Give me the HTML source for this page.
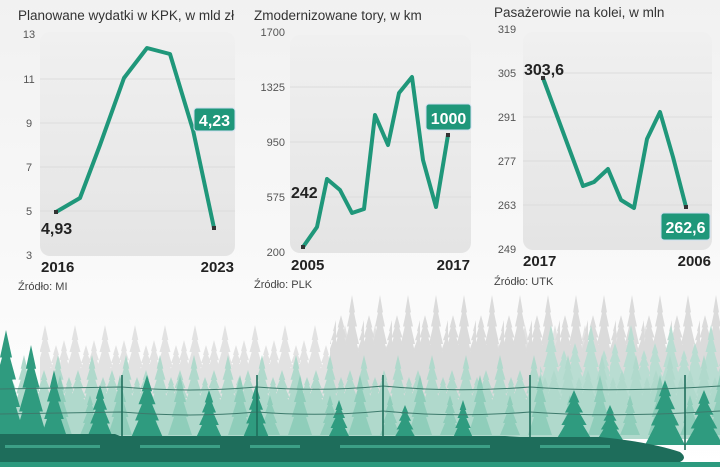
<!DOCTYPE html>
<html><head><meta charset="utf-8"><style>
html,body{margin:0;padding:0;width:720px;height:467px;overflow:hidden;background:#fff}
svg{display:block}
text{font-family:"Liberation Sans",sans-serif}
.t{font-size:13.5px;fill:#333}
.ax{font-size:11px;fill:#555}
.yr{font-size:15px;font-weight:bold;fill:#222}
.src{font-size:11px;fill:#444}
.lb{font-size:16px;font-weight:bold;fill:#222;font-family:"Liberation Sans Narrow","Liberation Sans",sans-serif}
.bx{font-size:16px;font-weight:bold;fill:#fff;font-family:"Liberation Sans Narrow","Liberation Sans",sans-serif}
.ln{fill:none;stroke:#1f977a;stroke-width:4;stroke-linejoin:round}
.gr{stroke:#dcdcdc;stroke-width:1}
</style></head><body>
<svg width="720" height="467" viewBox="0 0 720 467">
<defs>
<linearGradient id="bg" x1="0" y1="0" x2="0" y2="1"><stop offset="0" stop-color="#f1f1f1"/><stop offset="1" stop-color="#fff"/></linearGradient>
<linearGradient id="pb" x1="0" y1="0" x2="0" y2="1"><stop offset="0" stop-color="#f0f0f0"/><stop offset="1" stop-color="#e4e4e4"/></linearGradient>
<symbol id="tr" viewBox="0 0 20 100" preserveAspectRatio="none"><polygon points="10,0 13,25 12,25 15,45 13,45 17,70 15,70 20,100 0,100 5,70 3,70 7,45 5,45 8,25 7,25"/></symbol>
<pattern id="pg" patternUnits="userSpaceOnUse" x="0" y="325" width="30" height="60">
<use href="#tr" x="-6" y="15" width="20" height="45" fill="#e2e2e2"/><use href="#tr" x="4" y="0" width="22" height="60" fill="#e2e2e2"/><use href="#tr" x="16" y="20" width="20" height="40" fill="#e2e2e2"/><use href="#tr" x="24" y="15" width="20" height="45" fill="#e2e2e2"/></pattern>
<pattern id="pg2" patternUnits="userSpaceOnUse" x="0" y="295" width="28" height="70">
<use href="#tr" x="-6" y="20" width="22" height="50" fill="#dbdbdb"/><use href="#tr" x="6" y="0" width="20" height="70" fill="#dbdbdb"/><use href="#tr" x="18" y="25" width="20" height="45" fill="#dbdbdb"/></pattern>
<pattern id="pl" patternUnits="userSpaceOnUse" x="5" y="355" width="34" height="55">
<use href="#tr" x="-6" y="15" width="22" height="40" fill="#b0d9cc"/><use href="#tr" x="8" y="0" width="22" height="55" fill="#b0d9cc"/><use href="#tr" x="20" y="22" width="20" height="33" fill="#b0d9cc"/></pattern>
<pattern id="pl2" patternUnits="userSpaceOnUse" x="10" y="325" width="40" height="60">
<use href="#tr" x="-6" y="18" width="22" height="42" fill="#b9ddd2"/><use href="#tr" x="10" y="0" width="22" height="60" fill="#b9ddd2"/><use href="#tr" x="24" y="25" width="20" height="35" fill="#b9ddd2"/></pattern>
<pattern id="pm" patternUnits="userSpaceOnUse" x="20" y="375" width="60" height="60">
<use href="#tr" x="0" y="20" width="20" height="40" fill="#8fcdba"/><use href="#tr" x="28" y="0" width="24" height="60" fill="#8fcdba"/></pattern>
</defs>
<rect width="720" height="467" fill="url(#bg)"/>
<!-- forest -->
<rect x="40" y="325" width="680" height="60" fill="url(#pg)"/><rect x="40" y="384" width="680" height="50" fill="#e2e2e2"/>
<rect x="330" y="295" width="390" height="70" fill="url(#pg2)"/><rect x="330" y="364" width="390" height="70" fill="#dbdbdb"/>
<rect x="540" y="325" width="180" height="60" fill="url(#pl2)"/><rect x="540" y="384" width="180" height="50" fill="#b9ddd2"/>
<rect x="0" y="355" width="720" height="55" fill="url(#pl)"/><rect x="0" y="409" width="720" height="30" fill="#b0d9cc"/>
<rect x="0" y="375" width="720" height="60" fill="url(#pm)"/>
<g fill="#2f9b7f">
<use href="#tr" x="-14" y="330" width="40" height="110"/><use href="#tr" x="14" y="345" width="34" height="95"/><use href="#tr" x="40" y="370" width="28" height="70"/>
<use href="#tr" x="86" y="385" width="28" height="55"/><use href="#tr" x="130" y="375" width="34" height="65"/><use href="#tr" x="195" y="390" width="28" height="50"/>
<use href="#tr" x="242" y="385" width="28" height="55"/><use href="#tr" x="327" y="400" width="24" height="40"/><use href="#tr" x="393" y="405" width="24" height="35"/>
<use href="#tr" x="452" y="400" width="22" height="40"/><use href="#tr" x="556" y="390" width="36" height="50"/><use href="#tr" x="645" y="380" width="40" height="65"/><use href="#tr" x="685" y="390" width="38" height="55"/><use href="#tr" x="597" y="405" width="26" height="35"/>
</g>
<g stroke="#3d7a6c" stroke-width="1" fill="none">
<path d="M0,389 Q60,388 122,387 Q190,393 257,387 Q320,392 383,386 Q455,393 530,387 Q610,393 720,386"/>
<path d="M0,414 Q60,413 122,412 Q190,418 257,412 Q320,417 383,411 Q455,418 530,412 Q610,418 720,411"/>
</g>
<g stroke="#1f6e5c" stroke-width="1.6">
<line x1="122" y1="375" x2="122" y2="440"/><line x1="257" y1="375" x2="257" y2="440"/><line x1="383" y1="375" x2="383" y2="440"/><line x1="530" y1="375" x2="530" y2="440"/><line x1="685" y1="375" x2="685" y2="450"/>
</g>
<!-- train -->
<path d="M0,434 L115,434 L120,436 L505,436 L520,437 L600,437 Q650,442 680,452 Q688,458 680,462 L0,462 Z" fill="#1e6d5b"/>
<g fill="#3c9f86"><rect x="5" y="445" width="95" height="3"/><rect x="140" y="445" width="80" height="3"/><rect x="250" y="445" width="50" height="3"/><rect x="340" y="445" width="150" height="3"/><rect x="540" y="445" width="70" height="3"/></g>
<rect x="0" y="462" width="720" height="5" fill="#2c9a7e"/>
<!-- chart 1 -->
<text class="t" x="18" y="20">Planowane wydatki w KPK, w mld zł</text>
<rect x="40" y="32" width="195" height="224" rx="10" fill="url(#pb)"/>
<g class="gr"><line x1="40" y1="79" x2="235" y2="79"/><line x1="40" y1="123" x2="235" y2="123"/><line x1="40" y1="167" x2="235" y2="167"/><line x1="40" y1="211" x2="235" y2="211"/></g>
<g class="ax" text-anchor="middle"><text x="29" y="38">13</text><text x="29" y="83">11</text><text x="29" y="127">9</text><text x="29" y="171">7</text><text x="29" y="215">5</text><text x="29" y="259">3</text></g>
<polyline class="ln" points="56,212 80,198 100,145 124,78 147,48 170,54 193,130 214,228"/>
<rect x="54" y="210" width="4" height="4" fill="#333"/><rect x="212" y="226" width="4" height="4" fill="#333"/>
<text class="lb" x="41" y="234">4,93</text>
<rect x="194" y="108" width="41" height="23" rx="3" fill="#1f977a" stroke="#cde" stroke-width="1"/><text class="bx" x="214.5" y="126" text-anchor="middle">4,23</text>
<text class="yr" x="41" y="272">2016</text><text class="yr" x="234" y="272" text-anchor="end">2023</text>
<text class="src" x="18" y="290">Źródło: MI</text>
<!-- chart 2 -->
<text class="t" x="254" y="20">Zmodernizowane tory, w km</text>
<rect x="290" y="35" width="181" height="218" rx="10" fill="url(#pb)"/>
<g class="gr"><line x1="290" y1="87" x2="471" y2="87"/><line x1="290" y1="142" x2="471" y2="142"/><line x1="290" y1="197" x2="471" y2="197"/></g>
<g class="ax" text-anchor="end"><text x="285" y="36">1700</text><text x="285" y="91">1325</text><text x="285" y="146">950</text><text x="285" y="201">575</text><text x="285" y="256">200</text></g>
<polyline class="ln" points="303,247 317,227 327,179 340,190 352,213 364,209 375,115 388,145 399,93 412,77 423,160 436,207 448,135"/>
<rect x="301" y="245" width="4" height="4" fill="#333"/><rect x="446" y="133" width="4" height="4" fill="#333"/>
<text class="lb" x="291" y="198">242</text>
<rect x="426" y="104" width="45" height="26" rx="3" fill="#1f977a" stroke="#cde" stroke-width="1"/><text class="bx" x="448.5" y="124" text-anchor="middle">1000</text>
<text class="yr" x="291" y="270">2005</text><text class="yr" x="470" y="270" text-anchor="end">2017</text>
<text class="src" x="254" y="288">Źródło: PLK</text>
<!-- chart 3 -->
<text class="t" x="494" y="17">Pasażerowie na kolei, w mln</text>
<rect x="523" y="32" width="189" height="218" rx="10" fill="url(#pb)"/>
<g class="gr"><line x1="523" y1="73" x2="712" y2="73"/><line x1="523" y1="117" x2="712" y2="117"/><line x1="523" y1="161" x2="712" y2="161"/><line x1="523" y1="205" x2="712" y2="205"/></g>
<g class="ax" text-anchor="middle"><text x="507" y="33">319</text><text x="507" y="77">305</text><text x="507" y="121">291</text><text x="507" y="165">277</text><text x="507" y="209">263</text><text x="507" y="253">249</text></g>
<polyline class="ln" points="543,78 583,186 594,182 608,169 621,200 634,208 647,139 660,112 673,157 686,207"/>
<rect x="541" y="76" width="4" height="4" fill="#333"/><rect x="684" y="205" width="4" height="4" fill="#333"/>
<text class="lb" x="524" y="75">303,6</text>
<rect x="661" y="213" width="49" height="27" rx="3" fill="#1f977a" stroke="#cde" stroke-width="1"/><text class="bx" x="685.5" y="233" text-anchor="middle">262,6</text>
<text class="yr" x="523" y="266">2017</text><text class="yr" x="711" y="266" text-anchor="end">2006</text>
<text class="src" x="494" y="285">Źródło: UTK</text>
</svg>
</body></html>
